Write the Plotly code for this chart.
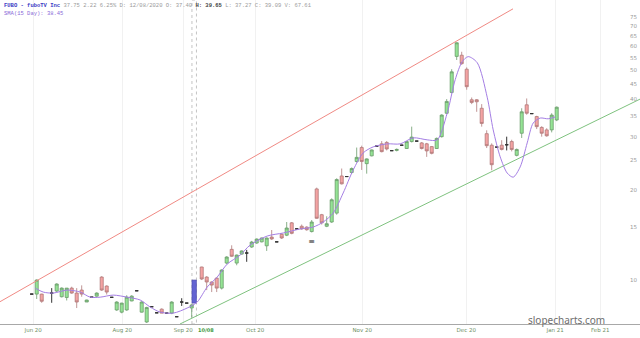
import math
import plotly.graph_objects as go

# ---------------- data ----------------
bar_idx = [6, 7, 8, 10, 11, 12, 13, 14, 15, 16, 17, 18, 19, 20, 21, 22, 23, 24, 25, 26,
           27, 28, 29, 30, 31, 32, 33, 34, 35, 36, 37, 38, 40, 41, 42, 43, 44, 45, 46, 47,
           48, 49, 50, 51, 52, 53, 54, 55, 56, 57, 58, 59, 60, 61, 62, 63, 64, 65, 66, 67,
           68, 69, 70, 71, 72, 73, 74, 75, 76, 77, 78, 79, 80, 81, 82, 83, 84, 85, 86, 87,
           88, 89, 90, 91, 92, 93, 94, 95, 96, 97, 98, 99, 100, 101, 102, 103, 104, 105, 106, 107,
           108, 109, 110, 111]
opens = [8.98, 8.98, 8.98, 9.05, 9.19, 8.80, 8.75, 9.40, 9.05, 9.26, 8.45, 8.77, 8.84, 10.23, 9.55, 8.76, 7.95, 7.82, 7.95, 8.52,
         9.21, 7.82, 7.25, 8.15, 7.78, 8.00, 7.76, 7.76, 7.55, 8.45, 8.38, 8.07, 11.05, 10.23, 9.85, 10.15, 9.40, 11.39, 12.65, 11.39,
         12.20, 12.30, 12.88, 13.28, 13.40, 13.00, 13.90, 13.40, 14.20, 14.10, 15.50, 14.80, 15.10, 15.00, 14.50, 20.10, 16.50, 15.10, 15.60, 16.70,
         22.20, 22.10, 22.80, 24.80, 27.60, 24.40, 25.90, 27.90, 28.40, 28.70, 26.95, 27.00, 28.10, 27.40, 28.90, 29.00, 28.60, 28.40, 27.80, 27.40,
         30.00, 35.90, 42.10, 55.50, 56.00, 50.30, 39.80, 39.80, 37.30, 30.70, 28.10, 27.70, 28.10, 28.20, 28.90, 26.00, 30.80, 38.30, 35.80, 35.00,
         32.20, 31.60, 31.60, 34.10]
highs = [8.98, 10.05, 9.00, 9.40, 9.75, 9.45, 9.40, 9.50, 9.40, 9.60, 8.60, 8.77, 9.10, 10.30, 9.60, 8.76, 8.50, 8.40, 8.90, 8.90,
         9.21, 8.50, 8.15, 8.15, 7.78, 8.05, 7.76, 8.50, 7.55, 8.70, 8.38, 8.30, 11.07, 10.30, 9.90, 10.20, 10.85, 12.00, 13.05, 12.15,
         12.55, 12.60, 13.50, 13.75, 13.85, 13.85, 14.67, 13.40, 14.30, 15.60, 15.60, 14.80, 15.30, 15.10, 15.84, 20.30, 16.60, 16.30, 18.70, 21.80,
         23.50, 22.10, 23.70, 27.60, 28.00, 25.40, 27.20, 27.90, 29.00, 29.00, 26.95, 27.40, 28.10, 28.95, 32.40, 29.00, 28.80, 28.60, 27.90, 29.80,
         35.60, 40.00, 50.30, 61.80, 57.50, 51.00, 40.50, 40.00, 38.50, 31.50, 28.50, 27.70, 29.20, 30.00, 29.30, 27.40, 37.30, 40.20, 35.80, 35.20,
         32.50, 32.00, 35.90, 37.80]
lows = [8.98, 8.65, 8.40, 8.40, 9.10, 8.75, 8.55, 9.00, 8.07, 8.80, 8.45, 8.77, 8.80, 9.20, 8.95, 8.76, 7.90, 7.75, 7.90, 8.50,
        9.21, 7.80, 7.20, 8.15, 7.78, 7.76, 7.76, 7.70, 7.55, 8.20, 8.38, 7.50, 10.00, 9.26, 9.12, 9.12, 9.30, 11.30, 11.95, 11.20,
        12.15, 11.50, 12.80, 13.20, 13.35, 12.50, 13.60, 13.40, 13.70, 14.00, 14.20, 14.80, 14.70, 14.60, 14.40, 16.00, 15.30, 15.00, 15.50, 16.50,
        20.80, 22.10, 22.60, 24.60, 23.25, 22.60, 25.80, 27.90, 26.60, 27.00, 26.95, 26.80, 28.10, 27.30, 28.70, 29.00, 27.20, 25.70, 26.20, 27.30,
        29.80, 35.70, 41.80, 54.00, 52.00, 43.00, 38.50, 36.30, 32.40, 27.50, 23.20, 27.70, 27.00, 27.00, 26.80, 25.80, 29.70, 35.50, 35.80, 31.80,
        30.00, 30.00, 31.00, 33.80]
closes = [8.98, 10.00, 8.50, 9.05, 9.70, 9.40, 9.40, 9.05, 8.45, 8.98, 8.58, 8.77, 9.05, 9.26, 9.12, 8.76, 8.45, 8.38, 8.77, 8.84,
          9.21, 8.45, 8.10, 8.15, 7.78, 7.76, 7.76, 8.45, 7.55, 8.45, 8.38, 8.26, 10.08, 9.85, 9.62, 9.40, 10.80, 11.93, 12.00, 12.11,
          12.50, 12.30, 13.38, 13.69, 13.80, 13.80, 13.70, 13.40, 13.80, 14.90, 14.30, 14.80, 14.80, 14.70, 15.60, 16.05, 15.50, 15.40, 18.50, 21.60,
          20.90, 22.10, 23.50, 25.60, 24.80, 25.30, 27.10, 27.90, 26.75, 27.30, 26.95, 27.20, 28.10, 28.90, 29.90, 29.00, 27.40, 26.90, 26.40, 29.60,
          35.40, 39.30, 49.30, 61.60, 52.50, 44.00, 39.00, 39.20, 33.20, 28.00, 24.20, 27.70, 27.20, 28.20, 27.20, 27.20, 36.30, 35.90, 35.80, 32.40,
          30.80, 30.20, 35.40, 37.60]

# highlighted (selected) bar
sel_idx = [38.5]
sel_open = [8.38]
sel_close = [10.00]

# SMA(15) curve as drawn
sma_x = [6.7, 8.3, 10.3, 13.1, 15.7, 17.7, 19.7, 22.3, 25.1, 27.7, 29.7, 31.7, 34.3, 37.1, 39.1, 41.1,
         43.1, 45.1, 47.7, 49.7, 53.1, 56.3, 59.7, 62.3, 64.3, 66.3, 68.3, 70.3, 72.3, 74.3, 77.1, 79.7,
         82.3, 85.1, 87.1, 89.1, 90.7, 92.1, 93.3, 95.1, 97.1, 98.3, 99.7, 101.1, 102.3, 103.7, 105.1,
         106.3, 107.7, 109.3, 110.7]
sma_y = [9.40, 9.12, 9.05, 9.26, 9.12, 8.77, 8.77, 8.91, 8.77, 8.58, 8.13, 7.82, 7.76, 8.07, 8.45, 9.48,
         10.23, 11.30, 12.11, 13.08, 14.01, 14.34, 14.79, 15.01, 15.60, 16.71, 19.49, 23.25, 26.49, 27.74, 28.39, 28.39,
         29.73, 29.28, 29.28, 35.93, 46.43, 53.31, 55.40, 52.90, 40.60, 31.60, 25.70, 22.70, 22.00, 23.80, 28.60,
         33.30, 34.60, 34.40, 34.90]

# trend channel lines (end points)
red_x = [-0.34, 102.26]
red_y = [8.47, 79.9]
green_x = [35.66, 127.66]
green_y = [7.14, 40.0]

# earnings-type marker
mark_x = [62]
mark_y = [13.4]

tick_pos = [6.3, 24.1, 36.3, 50.7, 72.1, 92.9, 110.7, 119.7]
tick_text = ['Jun 20', 'Aug 20', 'Sep 20', 'Oct 20', 'Nov 20', 'Dec 20', 'Jan 21', 'Feb 21']
sel_label = '10/08'

y_ticks = [10, 15, 20, 25, 30, 35, 40, 45, 50, 55, 60, 65, 70, 75]

header1 = ('<span style="color:#3b3bc4"><b>FUBO - fuboTV Inc</b></span> '
           '<span style="color:#9a9a9a">37.75 2.22 6.25% D: 12/08/2020 O: 37.40 </span>'
           '<b style="color:#444">H: 39.65</b>'
           '<span style="color:#9a9a9a"> L: 37.27 C: 39.09 V: 67.61</span>')
header2 = 'SMA(15 Day): 38.45'

# ---------------- figure ----------------
fig = go.Figure()

body_i = [i for i in range(len(bar_idx)) if opens[i] != closes[i]]
doji_i = [i for i in range(len(bar_idx)) if opens[i] == closes[i]]

fig.add_trace(go.Scatter(x=red_x, y=red_y, mode='lines',
                         line=dict(color='#f08a84', width=1), hoverinfo='skip', showlegend=False))
fig.add_trace(go.Scatter(x=green_x, y=green_y, mode='lines',
                         line=dict(color='#7fc27f', width=1), hoverinfo='skip', showlegend=False))

fig.add_trace(go.Candlestick(
    x=[bar_idx[i] for i in body_i],
    open=[opens[i] for i in body_i], high=[highs[i] for i in body_i],
    low=[lows[i] for i in body_i], close=[closes[i] for i in body_i],
    increasing=dict(fillcolor='#94e494', line=dict(color='#6a9a6a', width=0.8)),
    decreasing=dict(fillcolor='#f4a3a3', line=dict(color='#b07878', width=0.8)),
    whiskerwidth=0, showlegend=False, hoverinfo='skip'))

fig.add_trace(go.Candlestick(
    x=[bar_idx[i] for i in doji_i],
    open=[opens[i] for i in doji_i], high=[highs[i] for i in doji_i],
    low=[lows[i] for i in doji_i], close=[closes[i] for i in doji_i],
    increasing=dict(fillcolor='#333333', line=dict(color='#333333', width=1)),
    decreasing=dict(fillcolor='#333333', line=dict(color='#333333', width=1)),
    whiskerwidth=0, showlegend=False, hoverinfo='skip'))

fig.add_trace(go.Bar(x=sel_idx, y=[c - o for o, c in zip(sel_open, sel_close)], base=sel_open,
                     width=0.9, marker=dict(color='#6464d2', line=dict(color='#4a4aa8', width=0.6)),
                     hoverinfo='skip', showlegend=False))

fig.add_trace(go.Scatter(x=sma_x, y=sma_y, mode='lines',
                         line=dict(color='#a47ee4', width=1, shape='spline', smoothing=0.8),
                         hoverinfo='skip', showlegend=False))

fig.add_trace(go.Scatter(x=mark_x, y=mark_y, mode='text', text=['≡'],
                         textfont=dict(size=8, color='#222', family='DejaVu Sans'),
                         hoverinfo='skip', showlegend=False))

# selected-date dotted band
fig.add_shape(type='rect', xref='x', yref='paper', x0=sel_idx[0] - 0.45, x1=sel_idx[0] + 0.45,
              y0=0, y1=1, line=dict(color='#c4c4c4', width=1, dash='dot'), layer='below')

fig.add_annotation(xref='paper', yref='paper', x=0.003, y=1.0, xanchor='left', yanchor='top',
                   text=header1, showarrow=False, align='left',
                   font=dict(family='Liberation Mono', size=5.5, color='#9a9a9a'))
fig.add_annotation(xref='paper', yref='paper', x=0.003, y=0.976, xanchor='left', yanchor='top',
                   text=header2, showarrow=False, align='left',
                   font=dict(family='Liberation Mono', size=5.5, color='#8a6ad8'))
fig.add_annotation(xref='paper', yref='paper', x=607 / 640, y=4 / 324, xanchor='right', yanchor='middle',
                   text='slopecharts.com', showarrow=False,
                   font=dict(family='Noto Sans', size=10, color='#6e6e6e'))
fig.add_annotation(xref='x', yref='paper', x=sel_idx[0] + 0.45, y=-0.002, xanchor='left', yanchor='top',
                   text='<b>' + sel_label + '</b>', showarrow=False,
                   font=dict(family='DejaVu Sans', size=5, color='#3f9a3f'))

fig.update_layout(
    width=640, height=338,
    margin=dict(l=0, r=0, t=0, b=14),
    paper_bgcolor='white', plot_bgcolor='white',
    boxgap=0.12,
    xaxis=dict(range=[-0.34, 127.66], rangeslider=dict(visible=False),
               tickmode='array', tickvals=tick_pos, ticktext=tick_text,
               tickfont=dict(size=5.5, color='#6e8f64', family='DejaVu Sans'),
               showgrid=True, gridcolor='#f1f1f1', gridwidth=1,
               showline=True, linecolor='#a8a8a8', linewidth=1, ticks='', zeroline=False),
    yaxis=dict(type='log', range=[math.log10(7.14), math.log10(85.5)], side='right',
               tickmode='array', tickvals=y_ticks, ticktext=[str(v) for v in y_ticks],
               ticklabelposition='inside', ticks='',
               tickfont=dict(size=5.5, color='#9a9a9a', family='DejaVu Sans'),
               showgrid=False, zeroline=False, showline=False),
)

fig.write_html('out.html')
